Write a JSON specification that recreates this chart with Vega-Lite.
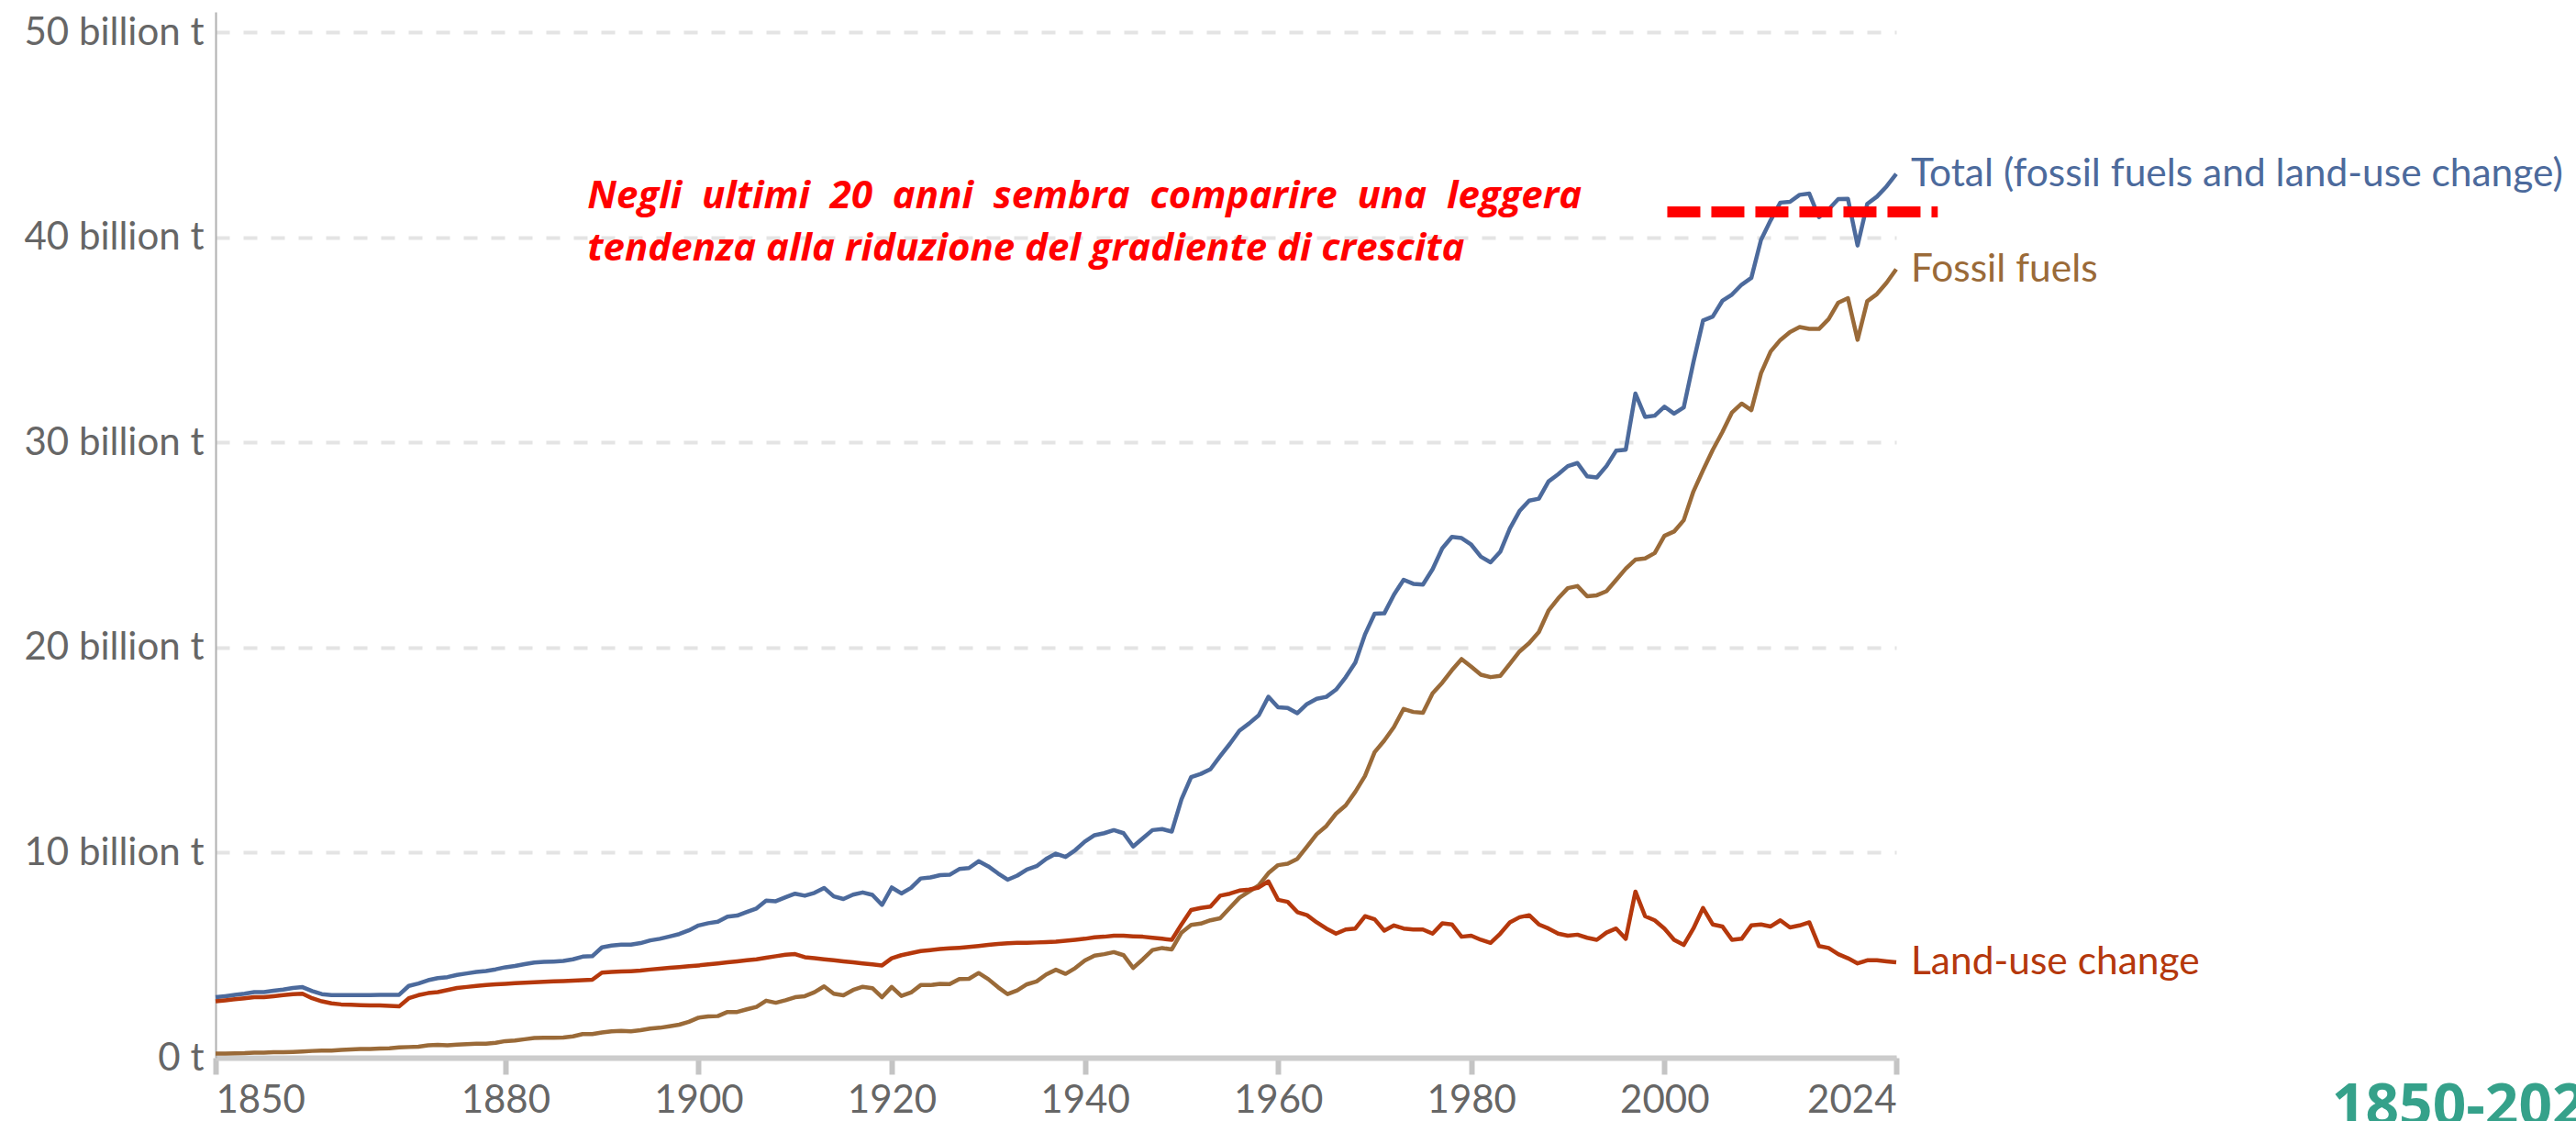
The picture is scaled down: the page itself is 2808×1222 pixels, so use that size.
{
  "$schema": "https://vega.github.io/schema/vega-lite/v6.json",
  "width": 1832,
  "height": 1140,
  "autosize": {"type": "none"},
  "padding": {"left": 235, "top": 13, "right": 741, "bottom": 69},
  "background": "white",
  "config": {"view": {"stroke": null}},
  "datasets": {
    "emissions": [
      {"year":1850,"fossil":0.20,"luc":2.75,"total":2.95},
      {"year":1851,"fossil":0.20,"luc":2.80,"total":3.00},
      {"year":1852,"fossil":0.21,"luc":2.85,"total":3.06},
      {"year":1853,"fossil":0.22,"luc":2.90,"total":3.12},
      {"year":1854,"fossil":0.25,"luc":2.95,"total":3.20},
      {"year":1855,"fossil":0.25,"luc":2.95,"total":3.20},
      {"year":1856,"fossil":0.27,"luc":3.00,"total":3.27},
      {"year":1857,"fossil":0.27,"luc":3.05,"total":3.32},
      {"year":1858,"fossil":0.28,"luc":3.10,"total":3.40},
      {"year":1859,"fossil":0.30,"luc":3.12,"total":3.44},
      {"year":1860,"fossil":0.33,"luc":2.90,"total":3.25},
      {"year":1861,"fossil":0.35,"luc":2.75,"total":3.10},
      {"year":1862,"fossil":0.35,"luc":2.65,"total":3.05},
      {"year":1863,"fossil":0.38,"luc":2.60,"total":3.05},
      {"year":1864,"fossil":0.40,"luc":2.58,"total":3.05},
      {"year":1865,"fossil":0.42,"luc":2.56,"total":3.05},
      {"year":1866,"fossil":0.43,"luc":2.55,"total":3.05},
      {"year":1867,"fossil":0.45,"luc":2.55,"total":3.06},
      {"year":1868,"fossil":0.46,"luc":2.53,"total":3.06},
      {"year":1869,"fossil":0.50,"luc":2.50,"total":3.07},
      {"year":1870,"fossil":0.52,"luc":2.90,"total":3.50},
      {"year":1871,"fossil":0.54,"luc":3.05,"total":3.62},
      {"year":1872,"fossil":0.60,"luc":3.15,"total":3.78},
      {"year":1873,"fossil":0.63,"luc":3.20,"total":3.88},
      {"year":1874,"fossil":0.60,"luc":3.30,"total":3.93},
      {"year":1875,"fossil":0.64,"luc":3.40,"total":4.04},
      {"year":1876,"fossil":0.66,"luc":3.45,"total":4.11},
      {"year":1877,"fossil":0.68,"luc":3.50,"total":4.18},
      {"year":1878,"fossil":0.68,"luc":3.55,"total":4.23},
      {"year":1879,"fossil":0.73,"luc":3.58,"total":4.31},
      {"year":1880,"fossil":0.81,"luc":3.60,"total":4.41},
      {"year":1881,"fossil":0.84,"luc":3.63,"total":4.47},
      {"year":1882,"fossil":0.90,"luc":3.66,"total":4.56},
      {"year":1883,"fossil":0.96,"luc":3.68,"total":4.64},
      {"year":1884,"fossil":0.97,"luc":3.70,"total":4.67},
      {"year":1885,"fossil":0.97,"luc":3.72,"total":4.69},
      {"year":1886,"fossil":0.98,"luc":3.74,"total":4.72},
      {"year":1887,"fossil":1.04,"luc":3.76,"total":4.80},
      {"year":1888,"fossil":1.15,"luc":3.78,"total":4.93},
      {"year":1889,"fossil":1.15,"luc":3.80,"total":4.95},
      {"year":1890,"fossil":1.23,"luc":4.15,"total":5.38},
      {"year":1891,"fossil":1.29,"luc":4.18,"total":5.47},
      {"year":1892,"fossil":1.31,"luc":4.20,"total":5.51},
      {"year":1893,"fossil":1.29,"luc":4.22,"total":5.51},
      {"year":1894,"fossil":1.34,"luc":4.25,"total":5.59},
      {"year":1895,"fossil":1.42,"luc":4.30,"total":5.72},
      {"year":1896,"fossil":1.46,"luc":4.34,"total":5.80},
      {"year":1897,"fossil":1.53,"luc":4.38,"total":5.91},
      {"year":1898,"fossil":1.61,"luc":4.42,"total":6.03},
      {"year":1899,"fossil":1.75,"luc":4.46,"total":6.21},
      {"year":1900,"fossil":1.95,"luc":4.50,"total":6.45},
      {"year":1901,"fossil":2.01,"luc":4.55,"total":6.56},
      {"year":1902,"fossil":2.03,"luc":4.60,"total":6.63},
      {"year":1903,"fossil":2.23,"luc":4.65,"total":6.88},
      {"year":1904,"fossil":2.23,"luc":4.70,"total":6.93},
      {"year":1905,"fossil":2.36,"luc":4.75,"total":7.11},
      {"year":1906,"fossil":2.48,"luc":4.80,"total":7.28},
      {"year":1907,"fossil":2.78,"luc":4.88,"total":7.66},
      {"year":1908,"fossil":2.68,"luc":4.95,"total":7.63},
      {"year":1909,"fossil":2.80,"luc":5.02,"total":7.82},
      {"year":1910,"fossil":2.95,"luc":5.05,"total":8.00},
      {"year":1911,"fossil":3.00,"luc":4.90,"total":7.90},
      {"year":1912,"fossil":3.19,"luc":4.85,"total":8.04},
      {"year":1913,"fossil":3.48,"luc":4.80,"total":8.28},
      {"year":1914,"fossil":3.12,"luc":4.75,"total":7.87},
      {"year":1915,"fossil":3.04,"luc":4.70,"total":7.74},
      {"year":1916,"fossil":3.30,"luc":4.65,"total":7.95},
      {"year":1917,"fossil":3.46,"luc":4.60,"total":8.06},
      {"year":1918,"fossil":3.39,"luc":4.55,"total":7.94},
      {"year":1919,"fossil":2.95,"luc":4.50,"total":7.45},
      {"year":1920,"fossil":3.45,"luc":4.85,"total":8.30},
      {"year":1921,"fossil":3.01,"luc":5.00,"total":8.01},
      {"year":1922,"fossil":3.18,"luc":5.10,"total":8.28},
      {"year":1923,"fossil":3.54,"luc":5.20,"total":8.74},
      {"year":1924,"fossil":3.54,"luc":5.25,"total":8.79},
      {"year":1925,"fossil":3.60,"luc":5.30,"total":8.90},
      {"year":1926,"fossil":3.59,"luc":5.33,"total":8.92},
      {"year":1927,"fossil":3.84,"luc":5.36,"total":9.20},
      {"year":1928,"fossil":3.85,"luc":5.40,"total":9.25},
      {"year":1929,"fossil":4.13,"luc":5.45,"total":9.58},
      {"year":1930,"fossil":3.83,"luc":5.50,"total":9.33},
      {"year":1931,"fossil":3.44,"luc":5.55,"total":8.99},
      {"year":1932,"fossil":3.10,"luc":5.58,"total":8.68},
      {"year":1933,"fossil":3.28,"luc":5.60,"total":8.88},
      {"year":1934,"fossil":3.58,"luc":5.60,"total":9.18},
      {"year":1935,"fossil":3.72,"luc":5.62,"total":9.34},
      {"year":1936,"fossil":4.06,"luc":5.64,"total":9.70},
      {"year":1937,"fossil":4.29,"luc":5.66,"total":9.95},
      {"year":1938,"fossil":4.09,"luc":5.70,"total":9.79},
      {"year":1939,"fossil":4.37,"luc":5.75,"total":10.12},
      {"year":1940,"fossil":4.74,"luc":5.80,"total":10.54},
      {"year":1941,"fossil":4.98,"luc":5.87,"total":10.85},
      {"year":1942,"fossil":5.05,"luc":5.90,"total":10.95},
      {"year":1943,"fossil":5.15,"luc":5.95,"total":11.10},
      {"year":1944,"fossil":5.00,"luc":5.95,"total":10.95},
      {"year":1945,"fossil":4.38,"luc":5.92,"total":10.30},
      {"year":1946,"fossil":4.80,"luc":5.90,"total":10.70},
      {"year":1947,"fossil":5.25,"luc":5.85,"total":11.10},
      {"year":1948,"fossil":5.35,"luc":5.80,"total":11.15},
      {"year":1949,"fossil":5.28,"luc":5.75,"total":11.03},
      {"year":1950,"fossil":6.10,"luc":6.50,"total":12.60},
      {"year":1951,"fossil":6.48,"luc":7.20,"total":13.68},
      {"year":1952,"fossil":6.54,"luc":7.30,"total":13.84},
      {"year":1953,"fossil":6.70,"luc":7.37,"total":14.07},
      {"year":1954,"fossil":6.80,"luc":7.90,"total":14.70},
      {"year":1955,"fossil":7.30,"luc":8.00,"total":15.30},
      {"year":1956,"fossil":7.80,"luc":8.15,"total":15.95},
      {"year":1957,"fossil":8.10,"luc":8.20,"total":16.30},
      {"year":1958,"fossil":8.40,"luc":8.30,"total":16.70},
      {"year":1959,"fossil":9.00,"luc":8.60,"total":17.60},
      {"year":1960,"fossil":9.39,"luc":7.70,"total":17.09},
      {"year":1961,"fossil":9.46,"luc":7.60,"total":17.06},
      {"year":1962,"fossil":9.70,"luc":7.10,"total":16.80},
      {"year":1963,"fossil":10.30,"luc":6.95,"total":17.25},
      {"year":1964,"fossil":10.90,"luc":6.60,"total":17.50},
      {"year":1965,"fossil":11.30,"luc":6.30,"total":17.60},
      {"year":1966,"fossil":11.90,"luc":6.05,"total":17.95},
      {"year":1967,"fossil":12.30,"luc":6.25,"total":18.55},
      {"year":1968,"fossil":12.97,"luc":6.30,"total":19.27},
      {"year":1969,"fossil":13.74,"luc":6.90,"total":20.64},
      {"year":1970,"fossil":14.90,"luc":6.75,"total":21.65},
      {"year":1971,"fossil":15.47,"luc":6.20,"total":21.67},
      {"year":1972,"fossil":16.13,"luc":6.45,"total":22.58},
      {"year":1973,"fossil":17.01,"luc":6.30,"total":23.31},
      {"year":1974,"fossil":16.86,"luc":6.25,"total":23.11},
      {"year":1975,"fossil":16.82,"luc":6.25,"total":23.07},
      {"year":1976,"fossil":17.77,"luc":6.05,"total":23.82},
      {"year":1977,"fossil":18.29,"luc":6.55,"total":24.84},
      {"year":1978,"fossil":18.90,"luc":6.50,"total":25.40},
      {"year":1979,"fossil":19.44,"luc":5.90,"total":25.34},
      {"year":1980,"fossil":19.07,"luc":5.95,"total":25.02},
      {"year":1981,"fossil":18.68,"luc":5.75,"total":24.43},
      {"year":1982,"fossil":18.56,"luc":5.60,"total":24.16},
      {"year":1983,"fossil":18.62,"luc":6.05,"total":24.67},
      {"year":1984,"fossil":19.21,"luc":6.60,"total":25.81},
      {"year":1985,"fossil":19.81,"luc":6.85,"total":26.66},
      {"year":1986,"fossil":20.22,"luc":6.95,"total":27.17},
      {"year":1987,"fossil":20.76,"luc":6.50,"total":27.26},
      {"year":1988,"fossil":21.80,"luc":6.30,"total":28.10},
      {"year":1989,"fossil":22.40,"luc":6.05,"total":28.45},
      {"year":1990,"fossil":22.90,"luc":5.95,"total":28.85},
      {"year":1991,"fossil":23.00,"luc":6.00,"total":29.00},
      {"year":1992,"fossil":22.50,"luc":5.85,"total":28.35},
      {"year":1993,"fossil":22.55,"luc":5.75,"total":28.30},
      {"year":1994,"fossil":22.75,"luc":6.10,"total":28.85},
      {"year":1995,"fossil":23.30,"luc":6.30,"total":29.60},
      {"year":1996,"fossil":23.85,"luc":5.80,"total":29.65},
      {"year":1997,"fossil":24.29,"luc":8.10,"total":32.39},
      {"year":1998,"fossil":24.35,"luc":6.90,"total":31.25},
      {"year":1999,"fossil":24.61,"luc":6.70,"total":31.31},
      {"year":2000,"fossil":25.45,"luc":6.30,"total":31.75},
      {"year":2001,"fossil":25.66,"luc":5.75,"total":31.41},
      {"year":2002,"fossil":26.21,"luc":5.50,"total":31.71},
      {"year":2003,"fossil":27.61,"luc":6.30,"total":33.91},
      {"year":2004,"fossil":28.65,"luc":7.30,"total":35.95},
      {"year":2005,"fossil":29.64,"luc":6.50,"total":36.14},
      {"year":2006,"fossil":30.51,"luc":6.40,"total":36.91},
      {"year":2007,"fossil":31.47,"luc":5.75,"total":37.22},
      {"year":2008,"fossil":31.90,"luc":5.80,"total":37.70},
      {"year":2009,"fossil":31.58,"luc":6.45,"total":38.03},
      {"year":2010,"fossil":33.38,"luc":6.50,"total":39.88},
      {"year":2011,"fossil":34.44,"luc":6.40,"total":40.84},
      {"year":2012,"fossil":35.00,"luc":6.70,"total":41.70},
      {"year":2013,"fossil":35.39,"luc":6.35,"total":41.74},
      {"year":2014,"fossil":35.63,"luc":6.45,"total":42.08},
      {"year":2015,"fossil":35.54,"luc":6.60,"total":42.14},
      {"year":2016,"fossil":35.54,"luc":5.45,"total":40.99},
      {"year":2017,"fossil":36.02,"luc":5.35,"total":41.37},
      {"year":2018,"fossil":36.82,"luc":5.05,"total":41.87},
      {"year":2019,"fossil":37.04,"luc":4.85,"total":41.89},
      {"year":2020,"fossil":35.01,"luc":4.60,"total":39.61},
      {"year":2021,"fossil":36.89,"luc":4.75,"total":41.64},
      {"year":2022,"fossil":37.24,"luc":4.75,"total":41.99},
      {"year":2023,"fossil":37.79,"luc":4.70,"total":42.49},
      {"year":2024,"fossil":38.45,"luc":4.65,"total":43.10}
    ],
    "labels": [
      {"key":"total","label":"Total (fossil fuels and land-use change)"},
      {"key":"fossil","label":"Fossil fuels"},
      {"key":"luc","label":"Land-use change"}
    ]
  },
  "layer": [
    {
      "data": {"name": "emissions"},
      "transform": [{"fold": ["total", "fossil", "luc"], "as": ["key", "value"]}],
      "mark": {"type": "line", "strokeWidth": 4.5, "strokeJoin": "round"},
      "encoding": {
        "x": {
          "field": "year", "type": "quantitative", "title": null,
          "scale": {"domain": [1850, 2024], "nice": false, "zero": false},
          "axis": {
            "values": [1850, 1880, 1900, 1920, 1940, 1960, 1980, 2000, 2024],
            "format": "d",
            "labelFlush": true,
            "grid": false,
            "domainColor": "#cccccc", "domainWidth": 6,
            "tickColor": "#c4c4c4", "tickWidth": 6, "tickSize": 18,
            "labelFont": "Lato", "labelFontSize": 42, "labelColor": "#666666",
            "labelPadding": 8
          }
        },
        "y": {
          "field": "value", "type": "quantitative", "title": null,
          "scale": {"domain": [0, 51], "nice": false},
          "axis": {
            "values": [0, 10, 20, 30, 40, 50],
            "labelExpr": "datum.value == 0 ? '0 t' : datum.value + ' billion t'",
            "labelLimit": 0,
            "ticks": false,
            "domain": true, "domainColor": "#b0b0b0", "domainWidth": 2,
            "grid": true, "gridColor": "#e4e4e4", "gridWidth": 4, "gridDash": [15, 15],
            "labelFont": "Lato", "labelFontSize": 42, "labelColor": "#666666",
            "labelPadding": 13
          }
        },
        "color": {
          "field": "key", "type": "nominal", "legend": null,
          "scale": {"domain": ["total", "fossil", "luc"], "range": ["#4c6a9c", "#9a6a38", "#b5380c"]}
        }
      }
    },
    {
      "data": {"name": "emissions"},
      "transform": [
        {"fold": ["total", "fossil", "luc"], "as": ["key", "value"]},
        {"filter": "datum.year == 2024"},
        {"lookup": "key", "from": {"data": {"name": "labels"}, "key": "key", "fields": ["label"]}}
      ],
      "mark": {"type": "text", "align": "left", "baseline": "middle", "dx": 16, "font": "Lato", "fontSize": 42.5},
      "encoding": {
        "x": {"field": "year", "type": "quantitative", "title": null},
        "y": {"field": "value", "type": "quantitative", "title": null},
        "text": {"field": "label"},
        "color": {"field": "key", "type": "nominal", "legend": null}
      }
    },
    {
      "data": {"values": [{"year": 2000.3, "year2": 2028.3, "value": 41.25}]},
      "mark": {"type": "rule", "color": "#ff0000", "strokeWidth": 12, "strokeDash": [36, 12], "strokeCap": "butt"},
      "encoding": {
        "x": {"field": "year", "type": "quantitative", "title": null},
        "x2": {"field": "year2"},
        "y": {"field": "value", "type": "quantitative", "title": null}
      }
    },
    {
      "data": {"values": [{"year": 1888.5, "value": 41.43, "note": "Negli \u00a0ultimi \u00a020 \u00a0anni \u00a0sembra \u00a0comparire \u00a0una \u00a0leggera\ntendenza alla riduzione del gradiente di crescita"}]},
      "mark": {"type": "text", "align": "left", "baseline": "alphabetic", "lineBreak": "\n", "lineHeight": 57, "font": "Open Sans", "fontSize": 42, "fontWeight": "bold", "fontStyle": "italic", "color": "#ff0000"},
      "encoding": {
        "x": {"field": "year", "type": "quantitative", "title": null},
        "y": {"field": "value", "type": "quantitative", "title": null},
        "text": {"field": "note"}
      }
    },
    {
      "data": {"values": [{"year": 2069.1, "value": -3.3, "period": "1850-2024"}]},
      "mark": {"type": "text", "align": "left", "baseline": "alphabetic", "font": "Open Sans", "fontSize": 64, "fontWeight": "bold", "color": "#35a18a"},
      "encoding": {
        "x": {"field": "year", "type": "quantitative", "title": null},
        "y": {"field": "value", "type": "quantitative", "title": null},
        "text": {"field": "period"}
      }
    }
  ]
}
